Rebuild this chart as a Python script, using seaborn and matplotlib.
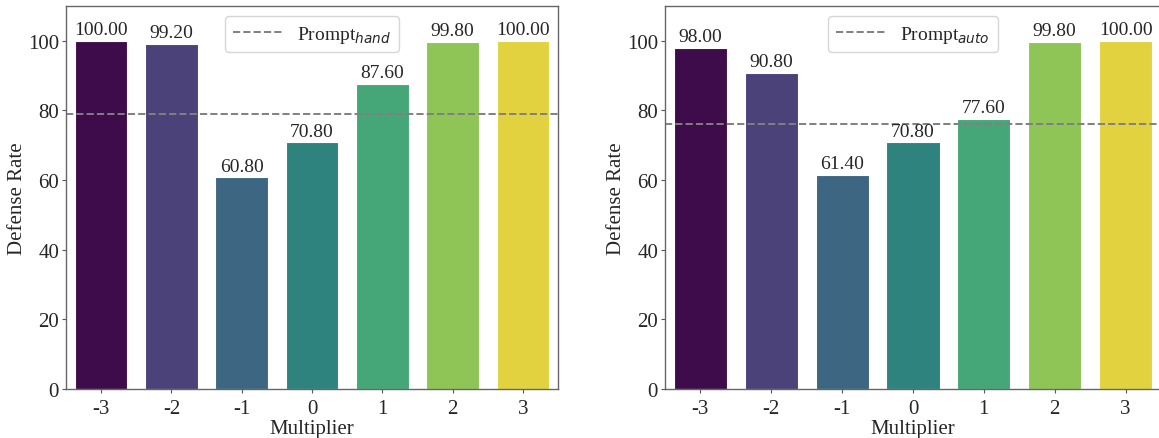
import matplotlib
matplotlib.use('Agg')

import matplotlib.pyplot as plt
import seaborn as sns
import pandas as pd

multipliers = [-3, -2, -1, 0, 1, 2, 3]
rate_hand = [100.00, 99.20, 60.80, 70.80, 87.60, 99.80, 100.00]
rate_auto = [98.00, 90.80, 61.40, 70.80, 77.60, 99.80, 100.00]
baseline_hand = 79.0
baseline_auto = 76.2
legend_hand = r"Prompt$_{hand}$"
legend_auto = r"Prompt$_{auto}$"

sns.set_style("white")
plt.rcParams['font.family'] = ['Liberation Serif', 'DejaVu Serif']


def draw_panel(ax, rates, baseline, label):
    df = pd.DataFrame({"Multiplier": multipliers, "Defense Rate": rates})
    sns.barplot(data=df, x="Multiplier", y="Defense Rate", hue="Multiplier",
                palette="viridis", legend=False, ax=ax, width=0.75,
                edgecolor="white", linewidth=0.8)
    for c in ax.containers:
        ax.bar_label(c, fmt="%.2f", fontsize=14, padding=2)
    ax.axhline(baseline, color="gray", linestyle="--", linewidth=1.4, label=label)
    ax.set_ylim(0, 110)
    ax.set_xlabel("Multiplier", fontsize=15, labelpad=1)
    ax.set_ylabel("Defense Rate", fontsize=15, labelpad=1)
    ax.tick_params(axis="both", labelsize=15, length=3, width=0.8, color="#555555",
                   bottom=True, left=True, pad=2)
    ax.tick_params(axis="x", pad=4)
    for s in ax.spines.values():
        s.set_color("#666666")
        s.set_linewidth(1.0)
    ax.legend(loc="upper center", fontsize=14, handlelength=2.5)


fig, axes = plt.subplots(1, 2, figsize=(11.59, 4.39), dpi=100)
draw_panel(axes[0], rate_hand, baseline_hand, legend_hand)
draw_panel(axes[1], rate_auto, baseline_auto, legend_auto)

axes[0].set_position([66 / 1159, 1 - 390 / 439, 492 / 1159, 383 / 439])
axes[1].set_position([665 / 1159, 1 - 390 / 439, 496 / 1159, 383 / 439])

fig.savefig("out.png", dpi=100)
plt.close()
